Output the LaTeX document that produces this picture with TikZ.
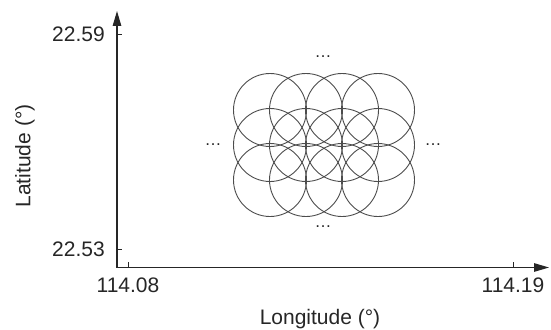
\documentclass[tikz,border=0pt]{standalone}
\usepackage{fontspec}
\setmainfont{Liberation Sans}
\usetikzlibrary{arrows.meta}
\begin{document}
\begin{tikzpicture}[x=1pt,y=-1pt,
  axis/.style={line width=1.2pt,draw=black!85,-{Stealth[length=15pt,width=8.5pt,inset=0pt]}},
  tick/.style={line width=0.8pt,draw=black!85},
  ring/.style={circle,draw=black!70,line width=0.9pt,minimum size=73pt,inner sep=0pt},
  lab/.style={font=\fontsize{21}{24}\selectfont,text=black!85,inner sep=0pt},
  dotsl/.style={font=\fontsize{17}{20}\selectfont,text=black!85,inner sep=0pt,anchor=base}]
\useasboundingbox (0,0) rectangle (551,329);
\coordinate (O) at (117,267.5);
\coordinate (Ytop) at (117,11);
\coordinate (Xend) at (549,267.5);
\draw[axis] (O) -- (Ytop);
\draw[axis] (O) -- (Xend);
% ticks
\coordinate (ty1) at (117,34); \coordinate (ty1e) at (122,34);
\coordinate (ty2) at (117,249); \coordinate (ty2e) at (122,249);
\coordinate (tx1) at (128,267.5); \coordinate (tx1e) at (128,262);
\coordinate (tx2) at (513,267.5); \coordinate (tx2e) at (513,262);
\draw[tick] (ty1) -- (ty1e);
\draw[tick] (ty2) -- (ty2e);
\draw[tick] (tx1) -- (tx1e);
\draw[tick] (tx2) -- (tx2e);
% tick labels
\node[lab,anchor=east] (l2259) at (105,34) {22.59};
\node[lab,anchor=east] (l2253) at (105,249.5) {22.53};
\node[lab] (l11408) at (128,285) {114.08};
\node[lab] (l11419) at (513,285) {114.19};
\node[lab] (xlab) at (320,319) {Longitude (°)};
\node[lab,rotate=90] (ylab) at (25,156) {Latitude (°)};
% circles
\foreach \i/\cx in {1/270,2/306,3/342,4/378}{
  \foreach \j/\cy in {1/110,2/145,3/180}{
    \node[ring] (c\j\i) at (\cx,\cy) {};
  }
}
% dots
\node[dotsl] (dtop) at (323,57) {…};
\node[dotsl] (dbot) at (323,227) {…};
\node[dotsl] (dleft) at (213,145) {…};
\node[dotsl] (dright) at (433,145) {…};
\end{tikzpicture}
\end{document}
